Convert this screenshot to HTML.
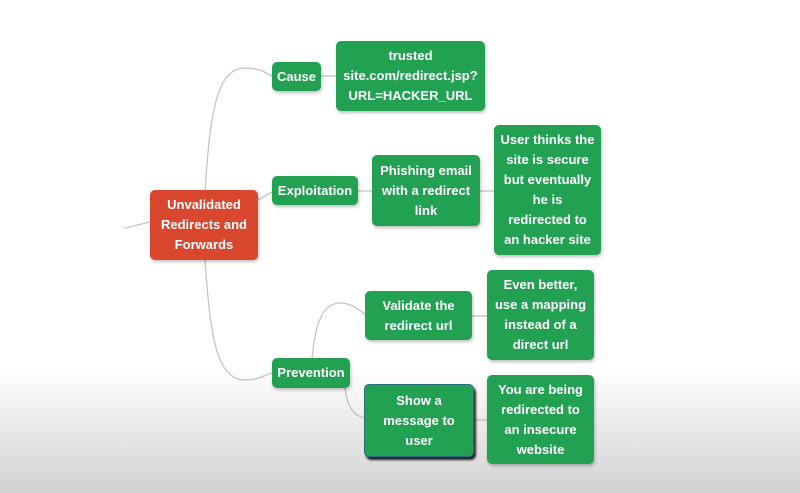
<!DOCTYPE html>
<html><head><style>
body{margin:0;width:800px;height:493px;overflow:hidden;background:linear-gradient(#fff 0,#fff 370px,#ececec 420px,#d2d2d2 493px);font-family:"Liberation Sans",sans-serif;position:relative}
.b{position:absolute;background:#22a153;color:#fff;font-weight:bold;font-size:13px;line-height:20px;text-align:center;border-radius:5px;display:flex;align-items:center;justify-content:center;box-shadow:1px 2px 3px rgba(0,0,0,.25)}
svg{position:absolute;left:0;top:0}
</style></head><body>
<svg width="800" height="493" fill="none" stroke="#c4c4c4" stroke-width="1.3">
<path d="M125 228 L150 222"/>
<path d="M205 190 C210 120 215 68 245 68 C258 68 265 72 272 76"/>
<path d="M258 200 L272 192"/>
<path d="M205 260 C210 330 215 380 245 380 C258 380 265 375 272 373"/>
<path d="M321 76 L336 76"/>
<path d="M358 191 L372 191"/>
<path d="M480 191 L494 191"/>
<path d="M312 358 C315 330 320 303 340 303 C352 303 358 310 365 314"/>
<path d="M345 388 C347 405 352 415 364 418"/>
<path d="M472 316 L487 316"/>
<path d="M474 420 L487 420"/>
</svg>
<div class="b" style="left:150px;top:190px;width:108px;height:70px;background:#d9472f">Unvalidated<br>Redirects and<br>Forwards</div>
<div class="b" style="left:272px;top:62px;width:49px;height:29px">Cause</div>
<div class="b" style="left:336px;top:41px;width:149px;height:70px">trusted<br>site.com/redirect.jsp?<br>URL=HACKER_URL</div>
<div class="b" style="left:272px;top:176px;width:86px;height:29px">Exploitation</div>
<div class="b" style="left:372px;top:155px;width:108px;height:71px">Phishing email<br>with a redirect<br>link</div>
<div class="b" style="left:494px;top:125px;width:107px;height:130px">User thinks the<br>site is secure<br>but eventually<br>he is<br>redirected to<br>an hacker site</div>
<div class="b" style="left:365px;top:291px;width:107px;height:49px">Validate the<br>redirect url</div>
<div class="b" style="left:487px;top:270px;width:107px;height:90px">Even better,<br>use a mapping<br>instead of a<br>direct url</div>
<div class="b" style="left:272px;top:358px;width:78px;height:30px">Prevention</div>
<div class="b" style="left:364px;top:384px;width:108px;height:71px;border:1px solid #2a6f80;box-shadow:2px 3px 2px #222">Show a<br>message to<br>user</div>
<div class="b" style="left:487px;top:375px;width:107px;height:89px">You are being<br>redirected to<br>an insecure<br>website</div>
</body></html>
